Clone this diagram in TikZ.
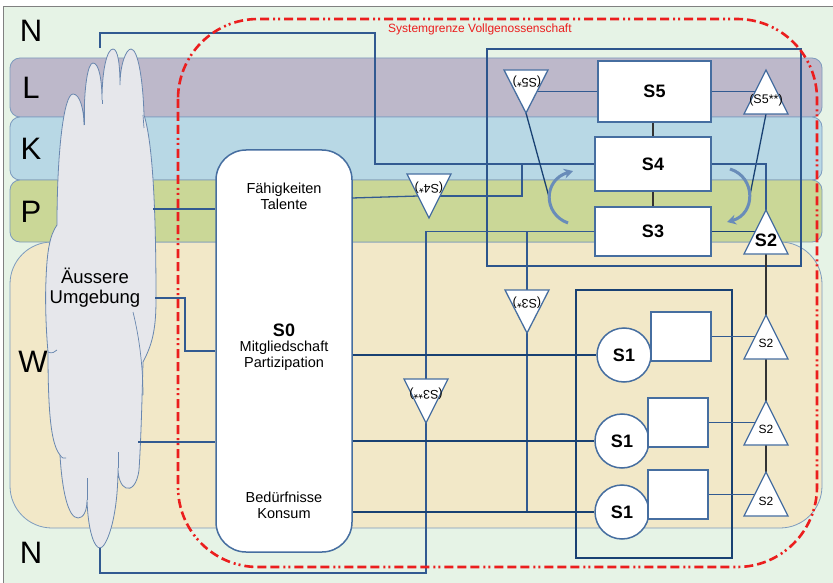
\documentclass[tikz,border=0pt]{standalone}
\usepackage{fontspec}
\setmainfont{Liberation Sans}
\usetikzlibrary{arrows.meta,calc}
\definecolor{bgg}{RGB}{230,243,230}
\definecolor{bandL}{RGB}{189,184,202}
\definecolor{bandK}{RGB}{184,216,229}
\definecolor{bandP}{RGB}{202,215,151}
\definecolor{bandW}{RGB}{242,232,200}
\definecolor{bandline}{RGB}{125,155,190}
\definecolor{lineb}{RGB}{50,90,145}
\definecolor{boxb}{RGB}{70,110,160}
\definecolor{bigb}{RGB}{45,85,140}
\definecolor{grpb}{RGB}{25,65,115}
\definecolor{cloudf}{RGB}{230,231,235}
\definecolor{cloudb}{RGB}{105,135,175}
\definecolor{arrc}{RGB}{105,140,185}
\definecolor{redb}{RGB}{235,30,30}
\begin{document}
\begin{tikzpicture}[x=1pt,y=-1pt,
  band/.style={draw=bandline,line width=0.8pt,rounded corners=10pt},
  conn/.style={draw=lineb,line width=1.3pt},
  blk/.style={draw=black!80,line width=1.2pt},
  sbox/.style={draw=boxb,fill=white,line width=1.5pt,inner sep=0pt,font=\fontsize{18}{18}\selectfont\bfseries},
  rbox/.style={draw=boxb,fill=white,line width=1.5pt,inner sep=0pt,minimum width=60pt,minimum height=49pt},
  scirc/.style={circle,draw=boxb,fill=white,line width=1.5pt,inner sep=0pt,minimum size=54pt,font=\fontsize{18}{18}\selectfont\bfseries},
  tri/.style={draw=boxb,fill=white,line width=1.3pt,line join=miter},
  tlab/.style={inner sep=0pt,font=\fontsize{12.5}{12.5}\selectfont},
  blab/.style={font=\fontsize{31}{31}\selectfont},
  curv/.style={draw=arrc,line width=3pt,-{Stealth[length=9pt,width=10pt]}},
]
\useasboundingbox (0,0) rectangle (833,583);
% frame and background
\fill[white] (0,0) rectangle (833,583);
\fill[bgg] (3,7) rectangle (840,590);
\draw[gray,line width=1pt] (3,590) -- (3,7) -- (840,7);
% bands
\path[band,fill=bandW,rounded corners=42pt] (10,242) rectangle (822,528);
\path[band,fill=bandL] (10,58) rectangle (822,117);
\path[band,fill=bandK] (10,117) rectangle (822,180);
\path[band,fill=bandP] (10,180) rectangle (822,242);
\node[blab] (lN1) at (31,31) {N};
\node[blab] (lL) at (31,88) {L};
\node[blab] (lK) at (31,149) {K};
\node[blab] (lP) at (31,212) {P};
\node[blab] (lW) at (33,362) {W};
\node[blab] (lN2) at (31,553) {N};
% cloud
\path[draw=cloudb,fill=cloudf,line width=0.8pt] (57,225)
 .. controls (57,150) and (64,94) .. (73,94)
 .. controls (80,94) and (84,110) .. (84,125)
 .. controls (84,85) and (88,63) .. (93,63)
 .. controls (99,63) and (102,80) .. (102,100)
 .. controls (102,70) and (107,49) .. (113,49)
 .. controls (118,49) and (120,65) .. (120,85)
 .. controls (120,65) and (126,49) .. (131,49)
 .. controls (138,49) and (143,80) .. (144,115)
 .. controls (152,140) and (156,200) .. (156,300)
 .. controls (156,330) and (152,345) .. (143,362)
 .. controls (142,400) and (141,440) .. (139,470)
 .. controls (137,485) and (131,490) .. (126,488)
 .. controls (121,486) and (118,478) .. (118,468)
 .. controls (118,520) and (106,548) .. (100,548)
 .. controls (94,548) and (88,530) .. (87,500)
 .. controls (87,512) and (83,518) .. (78,518)
 .. controls (68,518) and (62,490) .. (60,455)
 .. controls (52,445) and (48,420) .. (48,352)
 .. controls (46,330) and (45,300) .. (46,280)
 .. controls (47,250) and (50,235) .. (57,225)
 -- cycle;
\draw[cloudb,line width=0.7pt] (133,312) .. controls (140,340) and (143,370) .. (143,395);
\draw[cloudb,line width=0.7pt] (118,468) -- (118,452);
\draw[cloudb,line width=0.7pt] (87,500) -- (87,478);
\draw[cloudb,line width=0.7pt] (48,352) .. controls (52,354) and (55,352) .. (57,350);
\draw[cloudb,line width=0.7pt] (60,455) .. controls (62,458) and (64,459) .. (66,458);
\draw[cloudb,line width=0.7pt] (84,125) -- (84,105);
\draw[cloudb,line width=0.7pt] (102,100) -- (102,104);
\draw[cloudb,line width=0.7pt] (143,115) -- (144,128);
\node[align=center,inner sep=0pt,font=\fontsize{18.5}{20}\selectfont] (cloud) at (95,288) {Äussere\\Umgebung};
% coordinates on cloud
\coordinate (cTop) at (100,48);
\coordinate (cBot) at (100,548);
\coordinate (cP) at (153,209);
\coordinate (cW) at (155,298);
\coordinate (cL) at (138,442);
% S0
\node[draw=boxb,fill=white,line width=1.5pt,rounded corners=30pt,minimum width=136pt,minimum height=402pt,inner sep=0pt] (S0) at (284,351) {};
\node[align=center,inner sep=0pt,font=\fontsize{14.5}{16}\selectfont] (faeh) at (284,196) {Fähigkeiten\\Talente};
\node[inner sep=0pt,font=\fontsize{18}{18}\selectfont\bfseries] (s0t) at (284,330) {S0};
\node[align=center,inner sep=0pt,font=\fontsize{14.5}{16}\selectfont] (mitg) at (284,356) {Mitgliedschaft\\Partizipation};
\node[align=center,inner sep=0pt,font=\fontsize{14.5}{16}\selectfont] (bed) at (284,505) {Bedürfnisse\\Konsum};
% big box
\draw[bigb,line width=2.2pt] (487,49) rectangle (801,266);
% S1 group box
\draw[grpb,line width=2.5pt] (576,290) rectangle (732,558);
% connectors cloud <-> S0
\draw[conn] (cP) -- (cP -| S0.west);
\draw[conn] (cW) -- (185,298) -- (185,351) -- (S0.west |- 0,351);
\draw[conn] (cL) -- (S0.west |- cL);
% top line to S4
\node[sbox,minimum width=113pt,minimum height=61pt] (S5) at (654.5,91.5) {S5};
\node[sbox,minimum width=116pt,minimum height=54pt] (S4) at (653,164) {S4};
\node[sbox,minimum width=116pt,minimum height=49pt] (S3) at (653,231.5) {S3};
\draw[conn] (cTop) -- (100,33) -- (375,33) -- (375,164) -- (S4.west);
% bottom line from S3 via S3** to cloud
\coordinate (t3ssTop) at (426,379);
\coordinate (t3ssApex) at (426,423);
\draw[conn] (S3.west) -- (426,231.5) -- (t3ssTop);
\draw[conn] (t3ssApex) -- (426,573) -- (100,573) -- (cBot);
% S3* line
\coordinate (t3sTop) at (527,290);
\coordinate (t3sApex) at (527,333);
\coordinate (t3sEnd) at (527,511);
\draw[conn] (527,231.5) -- (t3sTop);
\draw[conn] (t3sApex) -- (t3sEnd);
% S4* connections
\coordinate (t4sL) at (418,196);
\coordinate (t4sR) at (440,196);
\draw[conn] (352,198) -- (t4sL);
\draw[conn] (t4sR) -- (522,196) -- (522,164);
% S1 nodes
\node[scirc] (S1a) at (624,355) {S1};
\node[scirc] (S1b) at (622,441) {S1};
\node[scirc] (S1c) at (622,512) {S1};
\node[rbox] (R1) at (681,336.5) {};
\node[rbox] (R2) at (678,422.5) {};
\node[rbox] (R3) at (678,494.5) {};
\draw[conn,draw=grpb] (S1a.west -| S0.east) -- (S1a.west);
\draw[conn,draw=grpb] (S1b.west -| S0.east) -- (S1b.west);
\draw[conn,draw=grpb] (S1c.west -| S0.east) -- (S1c.west);
% S5/S4/S3 vertical connections
\draw[blk] (S4.north) -- (S4.north |- S5.south);
\draw[blk] (S3.north) -- (S4.south);
% S5* and S5** lines
\coordinate (t5sR) at (537,91.5);
\coordinate (t5sApex) at (526,113);
\coordinate (t5sEnd) at (549,197);
\draw[conn] (t5sR) -- (S5.west);
\draw[conn,draw=grpb] (t5sApex) -- (t5sEnd);
\coordinate (t5ssL) at (755.5,91.5);
\coordinate (t5ssBase) at (766,114);
\coordinate (t5ssEnd) at (750,195);
\draw[conn] (S5.east) -- (t5ssL);
\draw[conn,draw=grpb] (t5ssBase) -- (t5ssEnd);
% S4 -> S2 and S3 -> S2
\coordinate (t2Apex) at (766,210);
\draw[conn] (S4.east |- 0,164) -- (766,164) -- (t2Apex);
\draw[conn,draw=grpb] (S3.east) -- (755.5,231.5);
% S2 chain
\draw[blk] (766,254) -- (766,315);
\draw[blk] (766,359) -- (766,401);
\draw[blk] (766,445) -- (766,472);
\draw[conn] (R1.east) -- (755.5,336.5);
\draw[conn] (R2.east) -- (755.5,422.5);
\draw[conn] (R3.east) -- (755.5,494.5);
% triangles
\draw[tri] (504,70) -- (548,70) -- (526,113) -- cycle;
\node[tlab,rotate=180] (t5sT) at (527,82) {(S5*)};
\draw[tri] (744,114) -- (766,70) -- (788,114) -- cycle;
\node[tlab] (t5ssT) at (766,100) {(S5**)};
\draw[tri] (407,174) -- (451,174) -- (429,218) -- cycle;
\node[tlab,rotate=180] (t4sT) at (429,188) {(S4*)};
\draw[tri] (505,290) -- (549,290) -- (527,333) -- cycle;
\node[tlab,rotate=180] (t3sT) at (527,303) {(S3*)};
\draw[tri] (404,379) -- (448,379) -- (426,423) -- cycle;
\node[tlab,rotate=180] (t3ssT) at (426,394) {(S3**)};
\draw[tri] (744,254) -- (766,210) -- (788,254) -- cycle;
\node[inner sep=0pt,font=\fontsize{18}{18}\selectfont\bfseries] (t2T) at (766,240) {S2};
\draw[tri] (744,359) -- (766,315) -- (788,359) -- cycle;
\node[tlab,font=\fontsize{12}{12}\selectfont] (t2aT) at (766,343) {S2};
\draw[tri] (744,445) -- (766,401) -- (788,445) -- cycle;
\node[tlab,font=\fontsize{12}{12}\selectfont] (t2bT) at (766,429) {S2};
\draw[tri] (744,516) -- (766,472) -- (788,516) -- cycle;
\node[tlab,font=\fontsize{12}{12}\selectfont] (t2cT) at (766,501) {S2};
% curved arrows
\draw[curv] (568,223) .. controls (543,214) and (543,180) .. (573,171);
\draw[curv] (730,169) .. controls (756,177) and (756,214) .. (727,222);
% red system boundary
\draw[redb,line width=2.6pt,rounded corners=80pt,dash pattern=on 9pt off 4pt on 9pt off 4pt on 9pt off 4pt on 2pt off 3pt on 2pt off 4pt] (178,19) rectangle (817,567);
\node[anchor=west,inner sep=0pt,text=redb,font=\fontsize{12}{12}\selectfont] (sysg) at (388,29) {Systemgrenze Vollgenossenschaft};
\end{tikzpicture}
\end{document}
